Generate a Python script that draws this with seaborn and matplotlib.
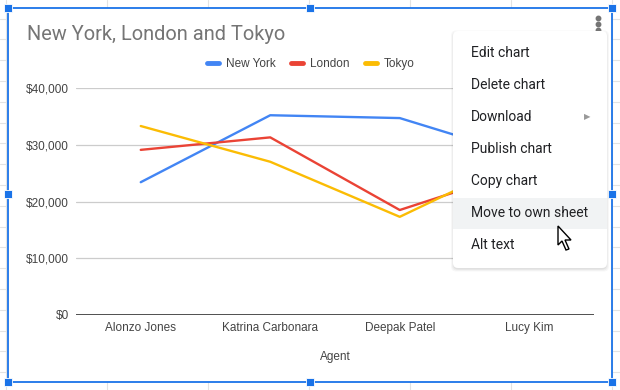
import matplotlib
matplotlib.use("Agg")
import matplotlib.pyplot as plt
from matplotlib.patches import Rectangle, FancyBboxPatch, Polygon
import pandas as pd
import seaborn as sns

# chart data
agents = ["Alonzo Jones", "Katrina Carbonara", "Deepak Patel", "Lucy Kim"]
new_york = [23400, 35200, 34700, 27700]
london = [29100, 31300, 18500, 25900]
tokyo = [33300, 27000, 17300, 28200]
cities = ["New York", "London", "Tokyo"]
colors = ["#4285F4", "#EA4335", "#FBBC04"]
y_ticks = [0, 10000, 20000, 30000, 40000]
menu_items = ["Edit chart", "Delete chart", "Download", "Publish chart",
              "Copy chart", "Move to own sheet", "Alt text"]

rows = []
for city, vals in zip(cities, [new_york, london, tokyo]):
    for a, v in zip(agents, vals):
        rows.append({"Agent": a, "City": city, "Sales": v})
df = pd.DataFrame(rows)

sns.set_style("white")
plt.rcParams["font.family"] = ["Roboto", "DejaVu Sans"]
chart_font = ["Liberation Sans", "DejaVu Sans"]

W, H = 620, 390
fig = plt.figure(figsize=(W / 100, H / 100), dpi=100)

# background layer: spreadsheet grid, chart card, selection border
bg = fig.add_axes([0, 0, 1, 1], zorder=0)
bg.set_xlim(0, W)
bg.set_ylim(H, 0)
bg.axis("off")
for x in [6, 107, 208, 309, 410, 511, 612]:
    bg.plot([x, x], [0, H], color="#e2e3e3", lw=0.8, zorder=1)
y = -2.2
while y < H:
    bg.plot([0, W], [y, y], color="#e2e3e3", lw=0.8, zorder=1)
    y += 20.8
bg.add_patch(Rectangle((8, 8), 604, 374, facecolor="white", edgecolor="#1a73e8", lw=1.3, zorder=3))
for hx in [8, 310, 612]:
    for hy in [8, 194, 382]:
        if hx == 310 and hy == 194:
            continue
        bg.add_patch(Rectangle((hx - 4, hy - 4), 8, 8, facecolor="#1a73e8",
                               edgecolor="white", lw=0.6, zorder=4))
bg.text(27, 35, "New York, London and Tokyo", fontsize=14.4, color="#757575",
        va="center", ha="left", zorder=5)
for dy in [17.5, 23.5, 29.5]:
    bg.plot(598, dy, "o", color="#757575", ms=3.2, zorder=5)

# chart
ax = fig.add_axes([76 / W, 1 - 315 / H, 518 / W, (315 - 88) / H], zorder=1)
ax.patch.set_alpha(0)
sns.lineplot(data=df, x="Agent", y="Sales", hue="City", palette=colors,
             hue_order=cities, sort=False, lw=1.7, ax=ax)
ax.set_xlim(-0.5, 3.5)
ax.set_ylim(0, 40000)
ax.set_yticks(y_ticks)
ax.set_yticklabels([f"${v:,}" for v in y_ticks])
ax.grid(axis="y", color="#cccccc", lw=0.9)
ax.axhline(0, color="#333333", lw=1.2)
for s in ax.spines.values():
    s.set_visible(False)
ax.tick_params(length=0, labelsize=8.5, labelcolor="#444444", pad=5)
for lab in ax.get_xticklabels() + ax.get_yticklabels():
    lab.set_family(chart_font)
ax.set_xlabel("Agent", fontsize=8.5, color="#444444", labelpad=12, family=chart_font)
ax.set_ylabel("")
leg = ax.legend(loc="center", bbox_to_anchor=(311 / W, 1 - 64 / H), bbox_transform=fig.transFigure,
                ncol=3, frameon=False, handlelength=1.0, columnspacing=1.3,
                handletextpad=0.6, prop={"family": chart_font, "size": 8.5})
for t in leg.get_texts():
    t.set_color("#444444")
for h in leg.get_lines():
    h.set_linewidth(3.5)

# context menu overlay
mn = fig.add_axes([0, 0, 1, 1], zorder=2)
mn.set_xlim(0, W)
mn.set_ylim(H, 0)
mn.axis("off")
for i, a in enumerate([0.05, 0.04, 0.03]):
    mn.add_patch(FancyBboxPatch((453 - i, 31 + 1.5 - i), 154 + 2 * i, 237 + 2 * i,
                                boxstyle="round,pad=0,rounding_size=5", facecolor="black",
                                alpha=a, edgecolor="none"))
mn.add_patch(FancyBboxPatch((453, 31), 154, 237, boxstyle="round,pad=0,rounding_size=5",
                            facecolor="white", edgecolor="none"))
mn.add_patch(Rectangle((453, 198), 154, 31, facecolor="#f1f3f4", edgecolor="none"))
for i, item in enumerate(menu_items):
    mn.text(471, 53 + 32 * i, item, fontsize=10, color="#202124", va="center", ha="left")
mn.text(587, 117, "\u25b6", fontsize=6, color="#999999", va="center", ha="center",
        family=["DejaVu Sans"])
mn.add_patch(Polygon([(558, 226), (558, 245), (562, 241), (566, 250), (569, 249),
                      (565, 240), (571, 240)], closed=True, facecolor="white",
                     edgecolor="black", lw=1))

fig.savefig("out.png", dpi=100)
